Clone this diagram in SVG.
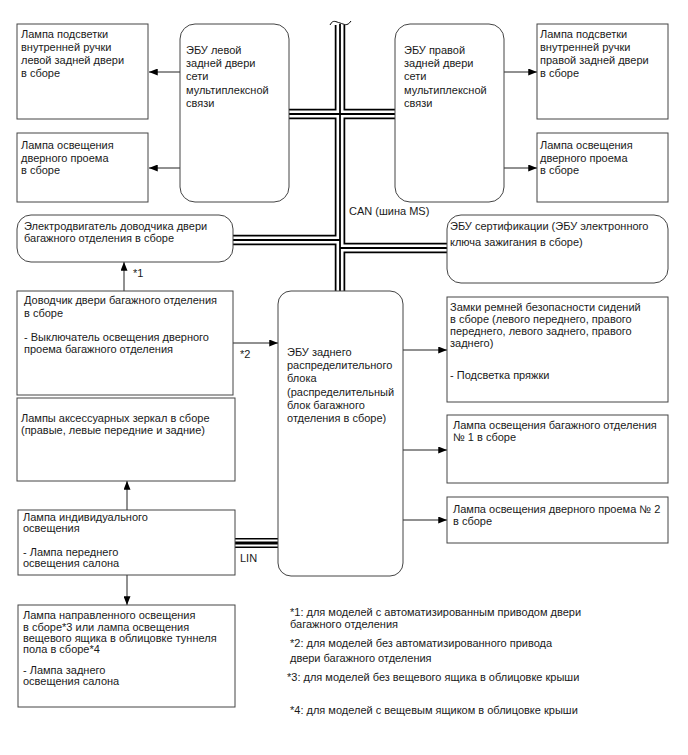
<svg xmlns="http://www.w3.org/2000/svg" width="688" height="755" viewBox="0 0 688 755">
<defs>
<style>
text{font-family:"Liberation Sans",Arial,sans-serif;font-size:11px;fill:#1a1a1a}
.box{fill:#fff;stroke:#444;stroke-width:1}
.ln{stroke:#222;stroke-width:1;fill:none}
.busO{stroke:#000;stroke-width:10.5;fill:none}
.busW{stroke:#fff;stroke-width:7;fill:none}
.busC{stroke:#000;stroke-width:1.8;fill:none}
</style>
<marker id="ah" viewBox="0 0 10 8" refX="10" refY="4" markerWidth="9" markerHeight="7" orient="auto" markerUnits="userSpaceOnUse">
<path d="M0,0 L10,4 L0,8 Z" fill="#000"/>
</marker>
</defs>
<rect width="688" height="755" fill="#fff"/>

<g id="connectors">
<!-- CAN bus -->
<path class="busO" d="M340,25 V291 M289,114 H395 M233,240 H340 M340,248 H447"/>
<path class="busW" d="M340,23 V293 M287,114 H397 M231,240 H340 M340,248 H449"/>
<path class="busC" d="M340,24 V292 M288,114 H396 M232,240 H340 M340,248 H448"/>
<path d="M330,25 C333,19 336,22 340,23 C344,24 347,27 351,21" fill="none" stroke="#000" stroke-width="1"/>
<!-- LIN bus -->
<path d="M235,543 H278" stroke="#000" stroke-width="10" fill="none"/>
<path d="M235,543 H278" stroke="#fff" stroke-width="7" fill="none"/>
<path d="M235,543 H278" stroke="#000" stroke-width="3" fill="none"/>
<!-- arrows -->
<path class="ln" d="M180,72 H149" marker-end="url(#ah)"/>
<path class="ln" d="M180,168 H149" marker-end="url(#ah)"/>
<path class="ln" d="M504,72 H537" marker-end="url(#ah)"/>
<path class="ln" d="M504,168 H537" marker-end="url(#ah)"/>
<path class="ln" d="M124,291 V262" marker-end="url(#ah)"/>
<path class="ln" d="M233,343 H278" marker-end="url(#ah)"/>
<path class="ln" d="M403,350 H447" marker-end="url(#ah)"/>
<path class="ln" d="M403,450 H447" marker-end="url(#ah)"/>
<path class="ln" d="M403,520 H447" marker-end="url(#ah)"/>
<path class="ln" d="M127,510 V481" marker-end="url(#ah)"/>
<path class="ln" d="M127,575 V605" marker-end="url(#ah)"/>
<text x="133" y="277">*1</text>
<text x="240" y="358">*2</text>
<text x="240" y="562">LIN</text>
<text x="349" y="215">CAN (шина MS)</text>
</g>

<g id="lamp-left-handle">
<rect class="box" x="17" y="24" width="131" height="95"/>
<text x="21" y="38">Лампа подсветки</text>
<text x="21" y="51">внутренней ручки</text>
<text x="21" y="64">левой задней двери</text>
<text x="21" y="77">в сборе</text>
</g>
<g id="lamp-left-door">
<rect class="box" x="17" y="133" width="131" height="69"/>
<text x="21" y="149">Лампа освещения</text>
<text x="21" y="161.5">дверного проема</text>
<text x="21" y="174">в сборе</text>
</g>
<g id="ecu-left-door">
<rect class="box" x="180" y="24" width="109" height="178" rx="15"/>
<text x="186" y="54">ЭБУ левой</text>
<text x="186" y="67">задней двери</text>
<text x="186" y="80">сети</text>
<text x="186" y="94">мультиплексной</text>
<text x="186" y="107">связи</text>
</g>
<g id="ecu-right-door">
<rect class="box" x="395" y="24" width="109" height="178" rx="15"/>
<text x="404" y="54">ЭБУ правой</text>
<text x="404" y="67">задней двери</text>
<text x="404" y="80">сети</text>
<text x="404" y="94">мультиплексной</text>
<text x="404" y="107">связи</text>
</g>
<g id="lamp-right-handle">
<rect class="box" x="537" y="24" width="131" height="95"/>
<text x="540" y="38">Лампа подсветки</text>
<text x="540" y="51">внутренней ручки</text>
<text x="540" y="64">правой задней двери</text>
<text x="540" y="77">в сборе</text>
</g>
<g id="lamp-right-door">
<rect class="box" x="537" y="133" width="131" height="69"/>
<text x="540" y="149">Лампа освещения</text>
<text x="540" y="161.5">дверного проема</text>
<text x="540" y="174">в сборе</text>
</g>
<g id="closer-motor">
<rect class="box" x="17" y="215" width="216" height="47" rx="14"/>
<text x="24" y="230">Электродвигатель доводчика двери</text>
<text x="24" y="242">багажного отделения в сборе</text>
</g>
<g id="cert-ecu">
<rect class="box" x="447" y="215" width="221" height="68" rx="14"/>
<text x="450" y="230">ЭБУ сертификации (ЭБУ электронного</text>
<text x="450" y="246">ключа зажигания в сборе)</text>
</g>
<g id="door-closer">
<rect class="box" x="17" y="291" width="216" height="104"/>
<text x="24" y="304">Доводчик двери багажного отделения</text>
<text x="24" y="317">в сборе</text>
<text x="24" y="341">- Выключатель освещения дверного</text>
<text x="24" y="353">проема багажного отделения</text>
</g>
<g id="rear-ecu">
<rect class="box" x="278" y="291" width="125" height="285" rx="13"/>
<text x="287" y="356">ЭБУ заднего</text>
<text x="287" y="369">распределительного</text>
<text x="287" y="382">блока</text>
<text x="287" y="396">(распределительный</text>
<text x="287" y="409">блок багажного</text>
<text x="287" y="422">отделения в сборе)</text>
</g>
<g id="seatbelt-buckles">
<rect class="box" x="447" y="297" width="221" height="105"/>
<text x="450" y="311">Замки ремней безопасности сидений</text>
<text x="450" y="323">в сборе (левого переднего, правого</text>
<text x="450" y="335">переднего, левого заднего, правого</text>
<text x="450" y="347">заднего)</text>
<text x="450" y="379">- Подсветка пряжки</text>
</g>
<g id="vanity-lamps">
<rect class="box" x="17" y="398" width="218" height="83"/>
<text x="21" y="422">Лампы аксессуарных зеркал в сборе</text>
<text x="21" y="434">(правые, левые передние и задние)</text>
</g>
<g id="luggage-lamp">
<rect class="box" x="447" y="415" width="221" height="68"/>
<text x="453" y="429">Лампа освещения багажного отделения</text>
<text x="453" y="441">№ 1 в сборе</text>
</g>
<g id="door-lamp-2">
<rect class="box" x="447" y="497" width="221" height="46"/>
<text x="453" y="513">Лампа освещения дверного проема № 2</text>
<text x="453" y="525">в сборе</text>
</g>
<g id="map-lamp">
<rect class="box" x="18" y="510" width="217" height="65"/>
<text x="23" y="521">Лампа индивидуального</text>
<text x="23" y="532">освещения</text>
<text x="23" y="556">- Лампа переднего</text>
<text x="23" y="567">освещения салона</text>
</g>
<g id="spot-lamp">
<rect class="box" x="18" y="605" width="217" height="102"/>
<text x="23" y="619">Лампа направленного освещения</text>
<text x="23" y="631">в сборе*3 или лампа освещения</text>
<text x="23" y="642">вещевого ящика в облицовке туннеля</text>
<text x="23" y="653">пола в сборе*4</text>
<text x="23" y="674">- Лампа заднего</text>
<text x="23" y="685">освещения салона</text>
</g>
<g id="notes">
<text x="290" y="616">*1: для моделей с автоматизированным приводом двери</text>
<text x="290" y="628">багажного отделения</text>
<text x="290" y="647">*2: для моделей без автоматизированного привода</text>
<text x="290" y="662">двери багажного отделения</text>
<text x="287" y="681">*3: для моделей без вещевого ящика в облицовке крыши</text>
<text x="290" y="714">*4: для моделей с вещевым ящиком в облицовке крыши</text>
</g>
</svg>
